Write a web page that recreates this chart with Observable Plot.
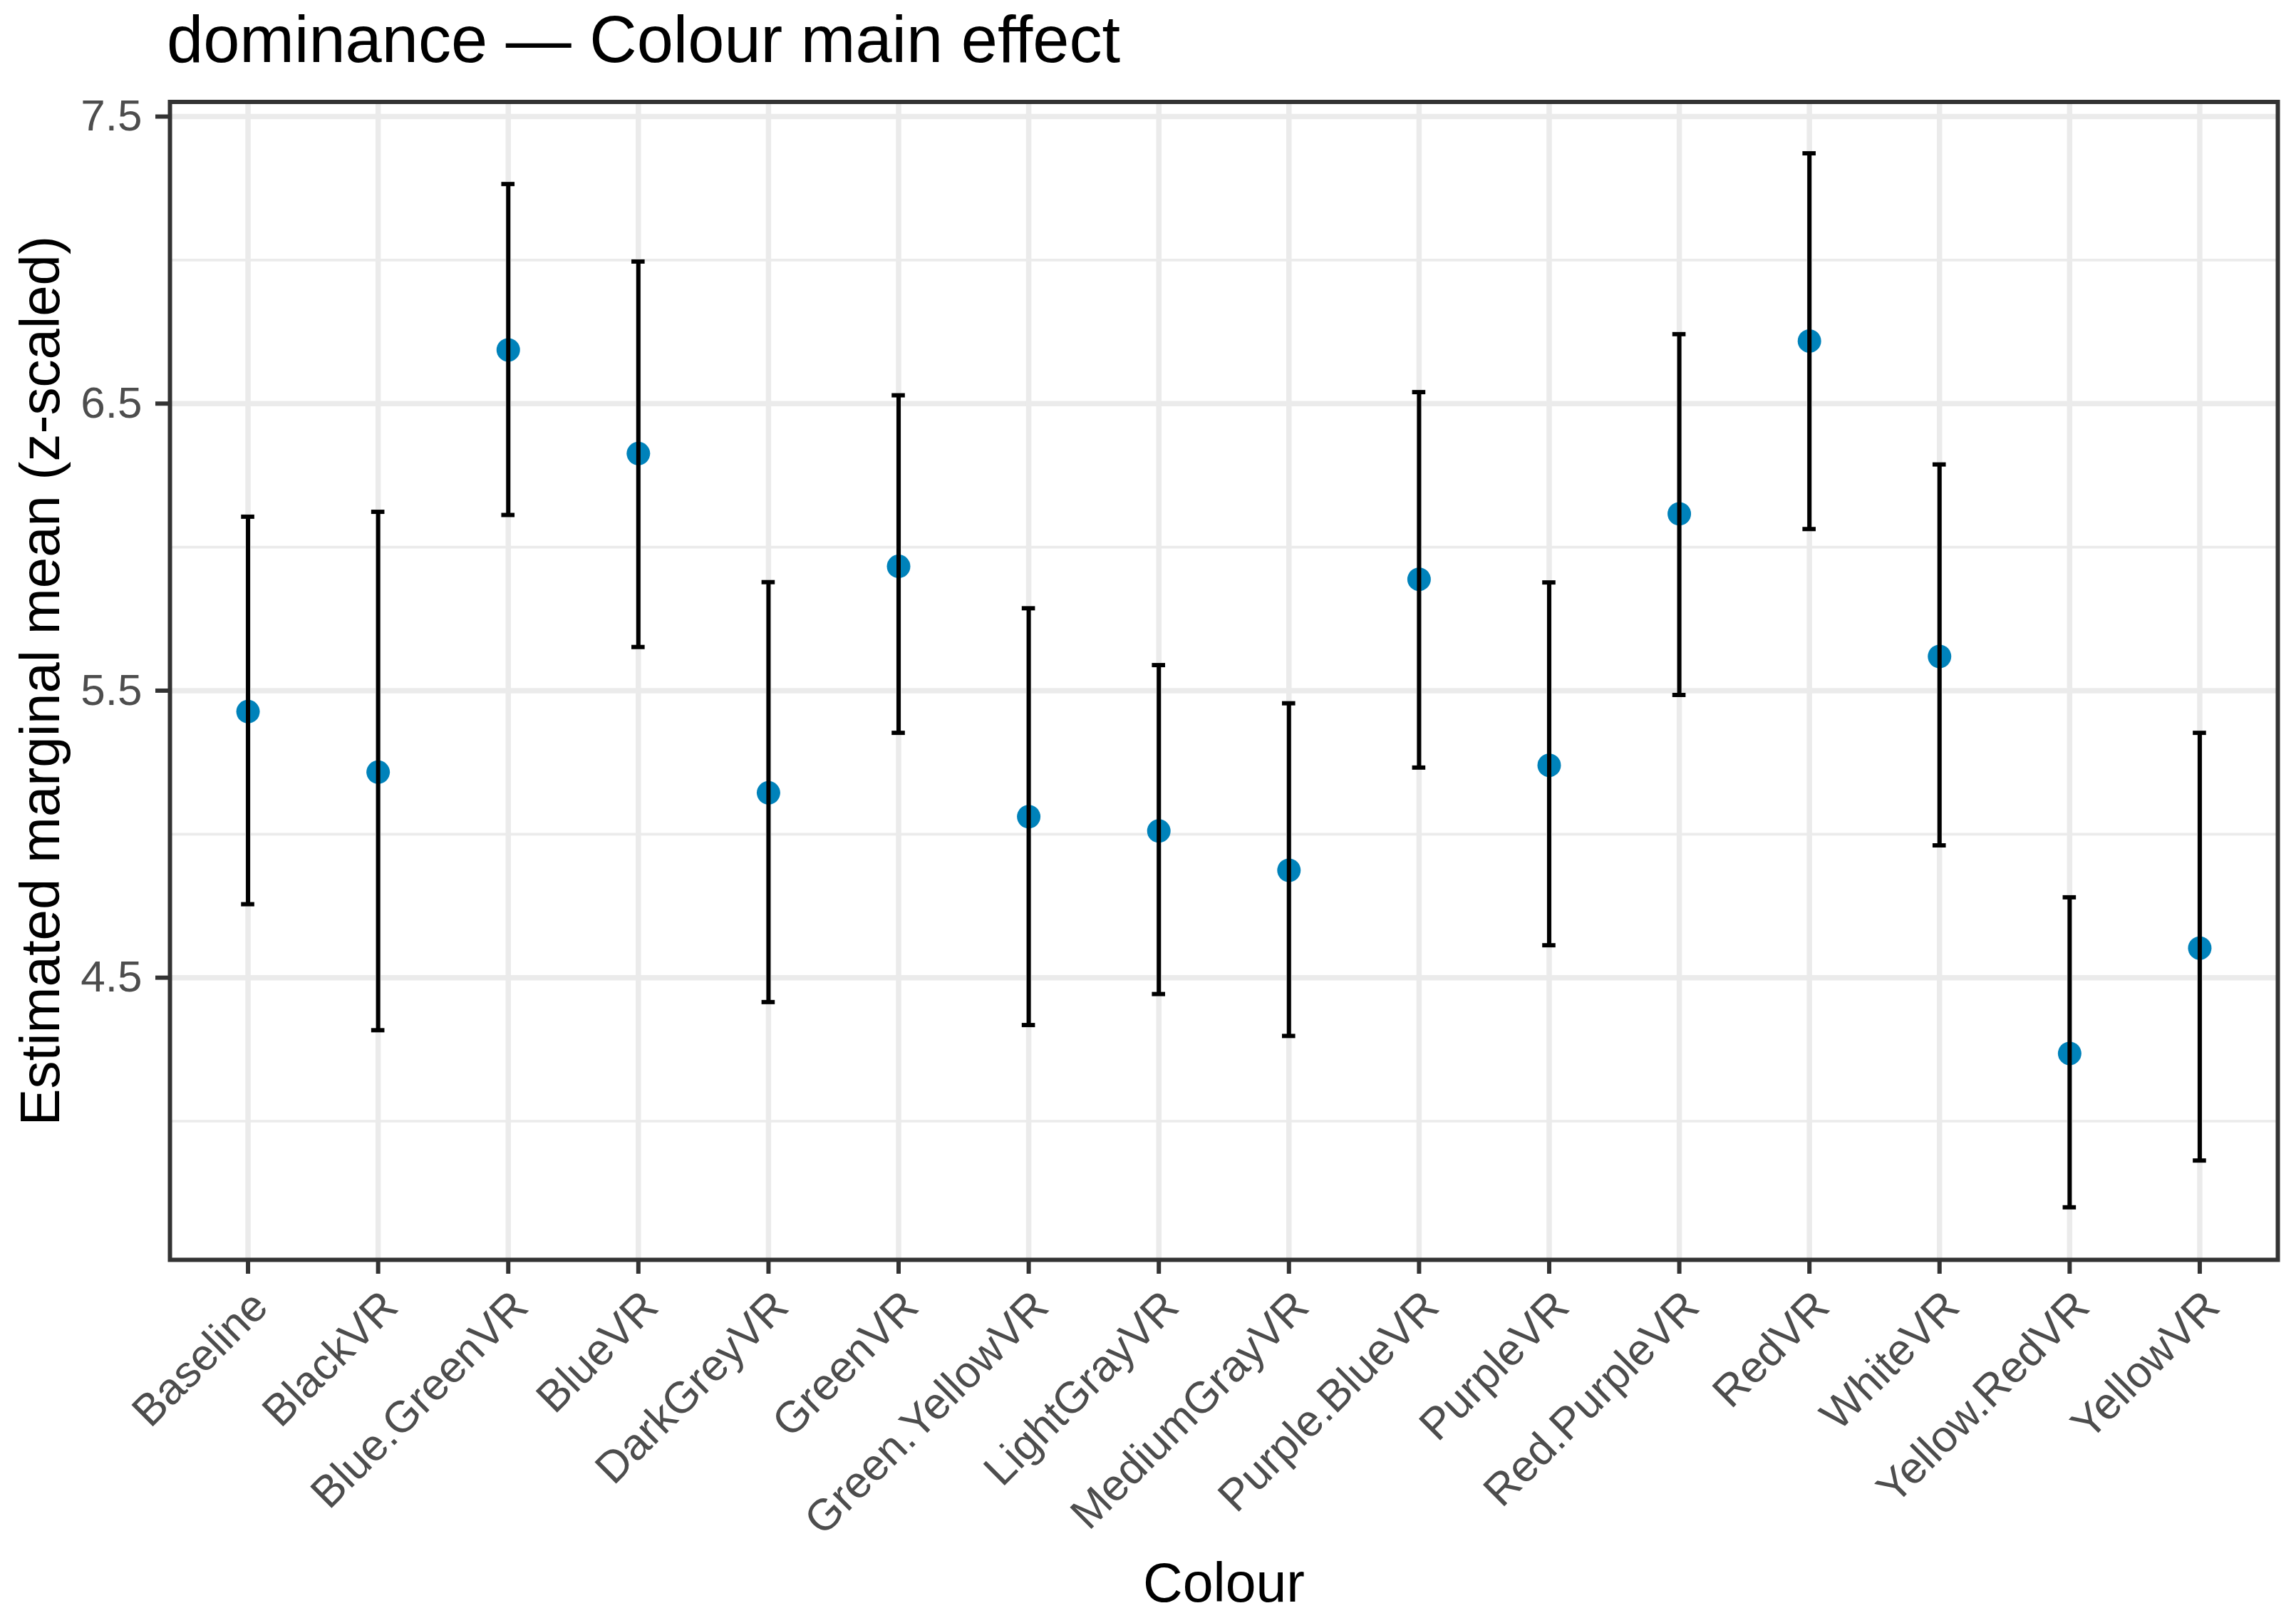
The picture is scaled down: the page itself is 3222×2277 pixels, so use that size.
<!DOCTYPE html>
<html>
<head>
<meta charset="utf-8">
<script src="https://cdn.jsdelivr.net/npm/d3@7"></script>
<script src="https://cdn.jsdelivr.net/npm/@observablehq/plot@0.6"></script>
<style>
  html, body { margin: 0; padding: 0; background: #ffffff; overflow: hidden; }
  #title {
    height: 110px; line-height: 110px; font-size: 92px;
    font-family: "Liberation Sans", Arial, sans-serif; color: #000;
    padding-left: 234px; white-space: nowrap;
  }
  #chart svg { display: block; }
</style>
</head>
<body>
<div id="title">dominance — Colour main effect</div>
<div id="chart"></div>
<script>
// ---- data ----
const colours = ["Baseline", "BlackVR", "Blue.GreenVR", "BlueVR", "DarkGreyVR", "GreenVR",
  "Green.YellowVR", "LightGrayVR", "MediumGrayVR", "Purple.BlueVR", "PurpleVR",
  "Red.PurpleVR", "RedVR", "WhiteVR", "Yellow.RedVR", "YellowVR"];
const emmean = [5.427, 5.216, 6.687, 6.326, 5.144, 5.933, 5.061, 5.011, 4.874, 5.888, 5.240, 6.116, 6.718, 5.619, 4.236, 4.603];
const lowerCL = [4.756, 4.317, 6.112, 5.652, 4.415, 5.353, 4.335, 4.443, 4.297, 5.232, 4.613, 5.485, 6.063, 4.961, 3.700, 3.863];
const upperCL = [6.106, 6.123, 7.265, 6.995, 5.878, 6.529, 5.787, 5.589, 5.456, 6.540, 5.877, 6.742, 7.372, 6.288, 4.780, 5.353];
const majorTicks = [4.5, 5.5, 6.5, 7.5];
const minorTicks = [4.0, 5.0, 6.0, 7.0];
const yDomain = [3.517, 7.551];
const xTitle = "Colour";
const yTitle = "Estimated marginal mean (z-scaled)";

const data = colours.map((c, i) => ({colour: c, emmean: emmean[i], lower: lowerCL[i], upper: upperCL[i]}));

const gridColor = "#ebebeb";
const dark = "#333333";
const capInset = 82;

const chart = Plot.plot({
  width: 3222,
  height: 2167,
  marginTop: 32.5,
  marginBottom: 510,
  marginLeft: 238,
  marginRight: 26,
  style: {fontFamily: "Liberation Sans, Arial, sans-serif", fontSize: "62px", background: "#ffffff", overflow: "visible"},
  x: {type: "band", domain: colours, paddingInner: 0, paddingOuter: 0.1, round: false, axis: null},
  y: {domain: yDomain, axis: null},
  marks: [
    Plot.ruleY(minorTicks, {stroke: gridColor, strokeWidth: 3.7}),
    Plot.ruleY(majorTicks, {stroke: gridColor, strokeWidth: 7.5}),
    Plot.ruleX(colours, {x: d => d, stroke: gridColor, strokeWidth: 7.5}),
    Plot.dot(data, {x: "colour", y: "emmean", r: 16.5, fill: "#0082BA", stroke: "none"}),
    Plot.ruleX(data, {x: "colour", y1: "lower", y2: "upper", stroke: "#000", strokeWidth: 6}),
    Plot.tickY(data, {x: "colour", y: "upper", stroke: "#000", strokeWidth: 6, insetLeft: capInset, insetRight: capInset}),
    Plot.tickY(data, {x: "colour", y: "lower", stroke: "#000", strokeWidth: 6, insetLeft: capInset, insetRight: capInset}),
    Plot.frame({stroke: dark, strokeWidth: 6}),
    Plot.axisY(majorTicks, {tickSize: 20, tickPadding: 19, fontSize: 62, fill: "#4d4d4d", stroke: dark, strokeWidth: 6, tickFormat: d => d.toFixed(1), label: null}),
    Plot.axisX({tickSize: 20, stroke: dark, strokeWidth: 6, text: null, label: null}),
    Plot.text(colours, {x: d => d, frameAnchor: "bottom", dy: 38, rotate: -45, textAnchor: "end", lineAnchor: "top", fontSize: 62, fill: "#4d4d4d"}),
    Plot.text([xTitle], {frameAnchor: "bottom", dy: 479, textAnchor: "middle", lineAnchor: "bottom", fontSize: 77, fill: "#000"}),
    Plot.text([yTitle], {frameAnchor: "left", dx: -156, rotate: -90, textAnchor: "middle", lineAnchor: "bottom", fontSize: 78, fill: "#000"})
  ]
});
document.getElementById("chart").appendChild(chart);
</script>
</body>
</html>
